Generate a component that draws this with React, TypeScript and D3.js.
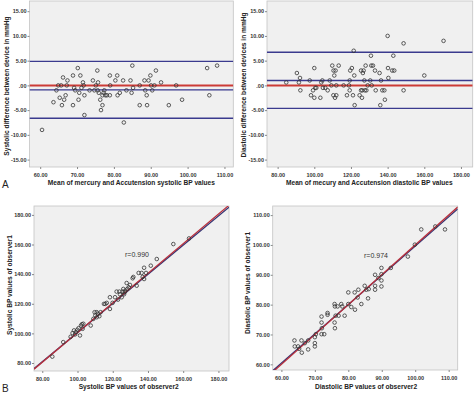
import React, { useRef, useEffect } from "react";
import * as d3 from "d3";

// Panel A, left: systolic Bland-Altman
const sysMean = [60.5, 63.6, 64.4, 64.9, 65.3, 65.7, 65.9, 66.2, 66.5, 66.9, 67.4, 67.2, 68.9, 68.9, 69.2, 69.5, 70.2, 70.4, 70.6, 70.9, 71.2, 71.6, 71.8, 72, 72, 73.4, 74.3, 74.7, 75.1, 75.5, 75.6, 75.7, 75.9, 76.3, 76.5, 76.9, 76.9, 77.2, 77.4, 77.7, 78.1, 78.9, 79, 78.9, 80.4, 80.9, 81, 81.6, 82.5, 82.7, 83.4, 84.5, 84.8, 85, 85.2, 87, 87, 88.3, 88.5, 88.9, 89, 89.4, 89.9, 90.1, 90.4, 91, 91.4, 92.8, 94.9, 96.9, 98.5, 105.3, 105.9, 108];
const sysDiff = [-9, -3.4, -1, 0, -2.5, 0, -4, 1.6, -2.9, -2, 1, 0, 2, -4, -0.5, -1, 3.5, -2.9, -1.5, 2, -0.5, 0.6, 0, -2, -6, -1, 1, -1, 0, 3, -1, 0.6, -1.5, -2.9, -5, -4, -2, -1.5, -1, -2, -2, 2, 0, -2, 1, 2, -2, -1.5, 1, -7.5, -1, 1, -1.5, 4, -0.5, 0, -4, 1, -1, -2, -4, 1, 2, 0, -1, 0, 3, 0.6, -4, 0, -2.9, 3.5, -2, 4];
const sysLimits = [4.85, -0.9, -6.65];

// Panel A, right: diastolic Bland-Altman
const diaMean = [84.7, 90.5, 91.6, 92.2, 92.4, 97.5, 98.2, 99.3, 100, 100, 100.5, 101.1, 103.3, 103.8, 104.4, 104.7, 106, 107.3, 108.4, 109.3, 109.8, 110.4, 110.5, 110.9, 111.3, 111.6, 112, 112, 113.3, 116, 117.8, 118.9, 119.3, 119.3, 119.6, 120.5, 121.1, 121.5, 121.8, 122, 124.7, 125.5, 125.5, 126, 126.2, 126.5, 126.9, 127.3, 127.6, 128, 128.4, 129.1, 130.5, 130.9, 131.1, 131.3, 132, 133.1, 133.5, 135.6, 136, 136.4, 137.1, 138.2, 138.5, 140, 140.2, 140.4, 142.5, 143.1, 143.6, 148.7, 148.7, 160, 170.5];
const diaDiff = [0.6, 2.5, 0.6, 1.5, -1, 1, -2, -1, 3.5, -2.5, -0.5, -0.5, -2.5, 0.6, 1, -0.5, -0.5, -1, 1, 0, 4, -2, 3, 2, -2.5, 3, -2, 0, 4, 0, -2, 0, -1, 1, 3, 3.5, -2, 7, 2, -4, -2, -1, 3, -2.5, -1, 2.5, 3, 1, -1, 4, -1, 0, 1, 6, 4, 0, 4, 3, -1, 2.5, -4, 1, -1, -1, -2.9, 10, 3.5, 1.5, 3, 6, 3, 8.5, -1, 2, 9];
const diaLimits = [6.7, 1.0, -4.65];

// Panel B, left: systolic observer agreement
const sysObs2 = [85.7, 91.9, 96.1, 97.2, 98, 98.6, 99.1, 99.9, 100.6, 101.4, 102, 102.5, 103.3, 102.9, 107.5, 109, 109.7, 110.1, 110.9, 110.9, 111.6, 112.4, 113.1, 115, 115.8, 116.6, 118.4, 118.4, 119.9, 121.3, 122.2, 123, 123.8, 124.1, 125.1, 125.6, 126, 126.4, 126.8, 127.2, 127.9, 128.3, 129.1, 129.8, 131.3, 131.7, 133.6, 134.7, 136.4, 137, 137.8, 137.8, 138.9, 141.6, 145, 154.4, 163.3];
const sysObs1 = [84.3, 94.1, 97.7, 100.2, 102, 99.3, 100.9, 102.4, 103.5, 98.6, 105.3, 106.2, 106.5, 103.1, 105.3, 109.8, 114.3, 112.1, 114.3, 110.9, 113.2, 111.6, 114.3, 119.9, 119.9, 120.6, 124.4, 116.5, 120.6, 124.4, 128.2, 122.8, 128.2, 126.4, 124.4, 128.2, 130, 126.4, 127.8, 128.9, 134, 130, 131.1, 132.7, 137.2, 138.1, 132.2, 140.8, 140.8, 138.1, 136.7, 144.3, 140.8, 145.7, 150.2, 160.3, 164.1];

// Panel B, right: diastolic observer agreement
const diaObs2 = [63.9, 64, 65, 65.3, 66, 66.1, 67, 68, 68, 70, 70, 70, 70.3, 72, 72, 72, 72.1, 72.8, 73.8, 73.8, 75.9, 76, 75.9, 76, 76.2, 76.8, 77.1, 77.9, 78.2, 78.9, 80, 80, 80.9, 81.9, 82, 82.8, 83, 83.9, 84.9, 85.4, 85.9, 86.1, 88, 88, 88, 89, 89.9, 89.9, 89.9, 89.9, 92.7, 97.8, 99.9, 101.8, 106, 108.9];
const diaObs1 = [68, 66, 66, 65.2, 68, 63.9, 67.1, 65, 68, 67.1, 66, 69.1, 70.1, 70.1, 74, 76, 72.1, 70.1, 77.2, 76.6, 80.2, 79.4, 74, 72.1, 76.3, 79.4, 76.3, 80.2, 79.4, 76.3, 84.1, 80.2, 79.2, 84.1, 78.3, 82.4, 85, 80.2, 86.3, 85, 82.1, 85.2, 90, 86.3, 85, 88.9, 92.3, 90.2, 88.1, 86.1, 92.3, 96.1, 100.1, 105.2, 106.2, 105.2];

// fit lines [slope, intercept]: red, blue
const sysFit = [[1.0, 0.5], [0.985, 2.0]];
const diaFit = [[1.0, 0.0], [0.98, 1.6]];

const sysBaTicksX = [60, 70, 80, 90, 100, 110];
const diaBaTicksX = [80, 100, 120, 140, 160, 180];
const baTicksY = [15, 10, 5, 0, -5, -10, -15];
const sysObsTicks = [80, 100, 120, 140, 160, 180];
const diaObsTicks = [60, 70, 80, 90, 100, 110];

const fmt = (d: number) => (d === 0 ? ".00" : d.toFixed(2));
const FONT = "'Liberation Sans', Arial, sans-serif";

const drawPanel = (svg: any, o: any) => {
  const x = d3.scaleLinear().domain(o.xDomain).range([o.left, o.right]);
  const y = d3.scaleLinear().domain(o.yDomain).range([o.bottom, o.top]);
  const id = "clip-" + o.id;

  svg
    .append("clipPath")
    .attr("id", id)
    .append("rect")
    .attr("x", o.left)
    .attr("y", o.top)
    .attr("width", o.right - o.left)
    .attr("height", o.bottom - o.top);

  svg
    .append("rect")
    .attr("x", o.left)
    .attr("y", o.top)
    .attr("width", o.right - o.left)
    .attr("height", o.bottom - o.top)
    .attr("fill", "#f0f0f0")
    .attr("stroke", "#c4c4c4")
    .attr("stroke-width", 0.8);

  const g = svg.append("g").attr("clip-path", `url(#${id})`);

  // horizontal limit lines
  if (o.limits) {
    o.limits.forEach((v: number) => {
      g.append("line")
        .attr("x1", o.left)
        .attr("x2", o.right)
        .attr("y1", y(v))
        .attr("y2", y(v))
        .attr("stroke", "#3a3a8e")
        .attr("stroke-width", 1.4);
    });
    g.append("line")
      .attr("x1", o.left)
      .attr("x2", o.right)
      .attr("y1", y(0))
      .attr("y2", y(0))
      .attr("stroke", "#cc3b36")
      .attr("stroke-width", 2);
  }

  // fit lines
  if (o.fits) {
    const colors = ["#b8303c", "#343474"];
    [1, 0].forEach((i) => {
      const [m, b] = o.fits[i];
      g.append("line")
        .attr("x1", x(o.xDomain[0]))
        .attr("x2", x(o.xDomain[1]))
        .attr("y1", y(m * o.xDomain[0] + b))
        .attr("y2", y(m * o.xDomain[1] + b))
        .attr("stroke", colors[i])
        .attr("stroke-width", 1.3);
    });
  }

  g.selectAll(".pt")
    .data(o.xs.map((v: number, i: number) => [v, o.ys[i]]))
    .enter()
    .append("circle")
    .attr("cx", (d: number[]) => x(d[0]))
    .attr("cy", (d: number[]) => y(d[1]))
    .attr("r", 1.8)
    .attr("fill", "none")
    .attr("stroke", "#333")
    .attr("stroke-width", 0.8);

  // axes
  const ax = svg
    .append("g")
    .attr("transform", `translate(0,${o.bottom})`)
    .call(d3.axisBottom(x).tickValues(o.xTicks).tickSize(2).tickPadding(4).tickFormat(fmt as any));
  const ay = svg
    .append("g")
    .attr("transform", `translate(${o.left},0)`)
    .call(d3.axisLeft(y).tickValues(o.yTicks).tickSize(2).tickPadding(1).tickFormat(fmt as any));
  [ax, ay].forEach((a) => {
    a.select(".domain").remove();
    a.selectAll("line").attr("stroke", "#888");
    a.selectAll("text")
      .attr("font-family", FONT)
      .attr("font-size", 5.5)
      .attr("font-weight", "bold")
      .attr("fill", "#333");
  });

  svg
    .append("text")
    .attr("x", (o.left + o.right) / 2 + (o.xTitleShift || 0))
    .attr("y", o.xTitleY)
    .attr("text-anchor", "middle")
    .attr("font-family", FONT)
    .attr("font-size", 6.6)
    .attr("font-weight", "bold")
    .attr("fill", "#222")
    .text(o.xTitle);

  svg
    .append("text")
    .attr("transform", `translate(${o.yTitleX},${o.yTitleC}) rotate(-90)`)
    .attr("text-anchor", "middle")
    .attr("font-family", FONT)
    .attr("font-size", 6.6)
    .attr("font-weight", "bold")
    .attr("fill", "#222")
    .text(o.yTitle);

  if (o.r) {
    svg
      .append("text")
      .attr("x", o.r.x)
      .attr("y", o.r.y)
      .attr("font-family", FONT)
      .attr("font-size", 7)
      .attr("fill", "#333")
      .text(o.r.text);
  }
};

const App = () => {
  const ref = useRef<SVGSVGElement>(null);

  useEffect(() => {
    if (!ref.current) return;
    const svg = d3.select(ref.current);
    svg.selectAll("*").remove();

    drawPanel(svg, {
      id: "a1",
      left: 29.5, right: 233.3, top: 1, bottom: 167,
      xDomain: [57.1, 112.4], yDomain: [-16.5, 17.06],
      xTicks: sysBaTicksX, yTicks: baTicksY,
      xs: sysMean, ys: sysDiff, limits: sysLimits,
      xTitle: "Mean of mercury and Accutension systolic BP values",
      xTitleY: 185, xTitleShift: 0,
      yTitle: "Systolic difference between device in mmHg",
      yTitleX: 8.5, yTitleC: 86,
    });

    drawPanel(svg, {
      id: "a2",
      left: 267, right: 472.7, top: 1, bottom: 167,
      xDomain: [74.2, 186.4], yDomain: [-16.5, 17.06],
      xTicks: diaBaTicksX, yTicks: baTicksY,
      xs: diaMean, ys: diaDiff, limits: diaLimits,
      xTitle: "Mean of mecury and Accutension diastolic BP values",
      xTitleY: 185, xTitleShift: -0.5,
      yTitle: "Diastolic difference between devices in mmHg",
      yTitleX: 245.5, yTitleC: 85,
    });

    drawPanel(svg, {
      id: "b1",
      left: 34, right: 229, top: 206, bottom: 371,
      xDomain: [75.3, 186], yDomain: [74.6, 186],
      xTicks: sysObsTicks, yTicks: sysObsTicks,
      xs: sysObs2, ys: sysObs1, fits: sysFit,
      xTitle: "Systolic BP values of observer2",
      xTitleY: 389, xTitleShift: -2.8,
      yTitle: "Systolic BP values of observer1",
      yTitleX: 11.5, yTitleC: 285,
      r: { x: 125, y: 256.5, text: "r=0.990" },
    });

    drawPanel(svg, {
      id: "b2",
      left: 272.7, right: 457.7, top: 206, bottom: 370,
      xDomain: [57.4, 112.7], yDomain: [58.1, 113.05],
      xTicks: diaObsTicks, yTicks: diaObsTicks,
      xs: diaObs2, ys: diaObs1, fits: diaFit,
      xTitle: "Diastolic BP values of observer2",
      xTitleY: 389, xTitleShift: 0.8,
      yTitle: "Diastolic BP values of observer1",
      yTitleX: 249.5, yTitleC: 283,
      r: { x: 364, y: 257.5, text: "r=0.974" },
    });

    // panel letters
    svg.append("text").attr("x", 2).attr("y", 188).attr("font-family", FONT)
      .attr("font-size", 10).attr("fill", "#222").text("A");
    svg.append("text").attr("x", 2).attr("y", 392).attr("font-family", FONT)
      .attr("font-size", 10).attr("fill", "#222").text("B");
  }, []);

  return (
    <svg
      ref={ref}
      width={474}
      height={393}
      style={{ position: "absolute", left: 0, top: 0, background: "#fff" }}
    ></svg>
  );
};

export default App;
